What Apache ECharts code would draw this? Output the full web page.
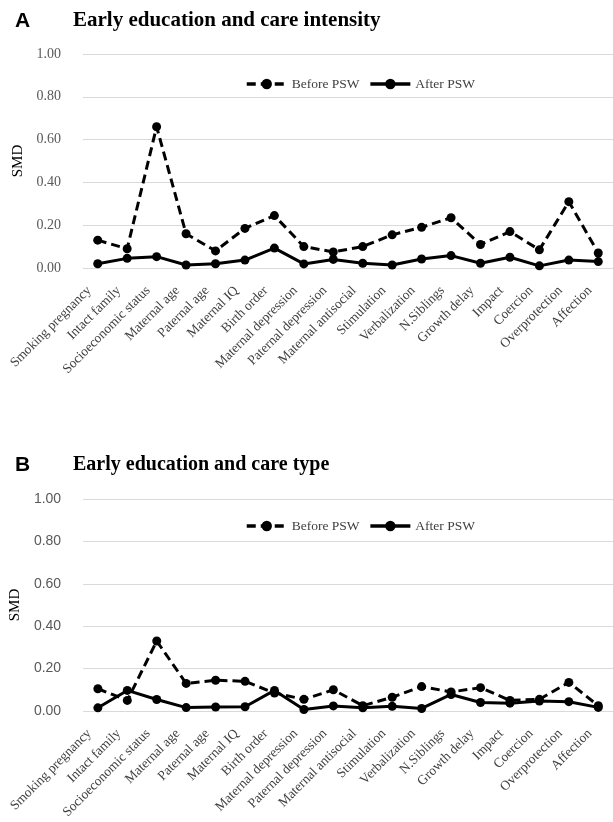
<!DOCTYPE html>
<html>
<head>
<meta charset="utf-8">
<script src="https://cdn.jsdelivr.net/npm/echarts@6/dist/echarts.min.js"></script>
<style>
  html, body { margin: 0; padding: 0; background: #fff; }
  #chart { width: 613px; height: 822px; }
</style>
</head>
<body>
<div id="chart"></div>
<script type="text/javascript">
	var categories = ['Smoking pregnancy', 'Intact family', 'Socioeconomic status', 'Maternal age', 'Paternal age',
		'Maternal IQ', 'Birth order', 'Maternal depression', 'Paternal depression', 'Maternal antisocial',
		'Stimulation', 'Verbalization', 'N.Siblings', 'Growth delay', 'Impact', 'Coercion', 'Overprotection', 'Affection'];
	// panel A: intensity
	var beforeA = [0.13, 0.09, 0.66, 0.16, 0.08, 0.185, 0.245, 0.10, 0.075, 0.10, 0.155, 0.19, 0.235, 0.11, 0.17, 0.085, 0.31, 0.07];
	var afterA  = [0.02, 0.045, 0.053, 0.014, 0.02, 0.037, 0.093, 0.019, 0.04, 0.022, 0.014, 0.042, 0.058, 0.022, 0.05, 0.01, 0.037, 0.03];
	// panel B: type
	var beforeB = [0.105, 0.05, 0.33, 0.13, 0.145, 0.14, 0.085, 0.055, 0.10, 0.025, 0.065, 0.115, 0.09, 0.11, 0.05, 0.055, 0.135, 0.025];
	var afterB  = [0.015, 0.097, 0.054, 0.016, 0.019, 0.02, 0.097, 0.007, 0.024, 0.015, 0.022, 0.012, 0.078, 0.04, 0.037, 0.047, 0.044, 0.017];
	var yTicks = [0, 0.2, 0.4, 0.6, 0.8, 1.0];

	var serif = '"Liberation Serif", "DejaVu Serif", serif';
	var sans = '"Liberation Sans", Arial, sans-serif';

	function xAxisFor(idx) {
		return {
			type: 'category',
			gridIndex: idx,
			data: categories,
			axisLine: { show: false },
			axisTick: { show: false },
			axisLabel: {
				interval: 0,
				rotate: 45,
				margin: 12,
				padding: [0, 12, 0, 0],
				color: '#404040',
				fontFamily: serif,
				fontSize: 13.5
			}
		};
	}
	function yAxisFor(idx, font) {
		return {
			type: 'value',
			gridIndex: idx,
			min: yTicks[0],
			max: yTicks[yTicks.length - 1],
			interval: 0.2,
			name: 'SMD',
			nameLocation: 'middle',
			nameRotate: 90,
			nameGap: 48,
			nameTextStyle: { fontFamily: serif, fontSize: 15, color: '#000' },
			axisLine: { show: false },
			axisTick: { show: false },
			splitLine: { lineStyle: { color: '#d9d9d9', width: 1 } },
			axisLabel: {
				margin: 22,
				color: '#595959',
				fontFamily: font,
				fontSize: 14,
				formatter: function (v) { return v.toFixed(2); }
			}
		};
	}
	function lineSeries(name, idx, data, dashed) {
		return {
			name: name,
			type: 'line',
			xAxisIndex: idx,
			yAxisIndex: idx,
			data: data,
			symbol: 'circle',
			symbolSize: 9,
			itemStyle: { color: '#000' },
			lineStyle: { color: '#000', width: 3, type: dashed ? [9, 5] : 'solid' },
			animation: false
		};
	}
	function legendAt(top) {
		return {
			left: 240, top: top, itemWidth: 40, itemHeight: 13, itemGap: 9,
			lineStyle: { width: 3.5 },
			textStyle: { fontFamily: serif, fontSize: 13.5, color: '#404040' },
			data: ['Before PSW', 'After PSW']
		};
	}

	var chart = echarts.init(document.getElementById('chart'));
	var option = {
		backgroundColor: '#fff',
		animation: false,
		title: [
			{ text: 'A', left: 10, top: 6, textStyle: { fontFamily: sans, fontWeight: 'bold', fontSize: 21, color: '#000' } },
			{ text: 'Early education and care intensity', left: 68, top: 5, textStyle: { fontFamily: serif, fontWeight: 'bold', fontSize: 21, color: '#000' } },
			{ text: 'B', left: 10, top: 450, textStyle: { fontFamily: sans, fontWeight: 'bold', fontSize: 21, color: '#000' } },
			{ text: 'Early education and care type', left: 68, top: 450, textStyle: { fontFamily: serif, fontWeight: 'bold', fontSize: 20, color: '#000' } }
		],
		legend: [legendAt(72), legendAt(514)],
		grid: [
			{ left: 83, top: 54, width: 533, height: 214 },
			{ left: 83, top: 499, width: 533, height: 212 }
		],
		xAxis: [xAxisFor(0), xAxisFor(1)],
		yAxis: [yAxisFor(0, serif), yAxisFor(1, sans)],
		series: [
			lineSeries('Before PSW', 0, beforeA, true),
			lineSeries('After PSW', 0, afterA, false),
			lineSeries('Before PSW', 1, beforeB, true),
			lineSeries('After PSW', 1, afterB, false)
		]
	};
	chart.setOption(option);
	window.onresize = function () {
		chart.resize();
	};
</script>
</body>
</html>
